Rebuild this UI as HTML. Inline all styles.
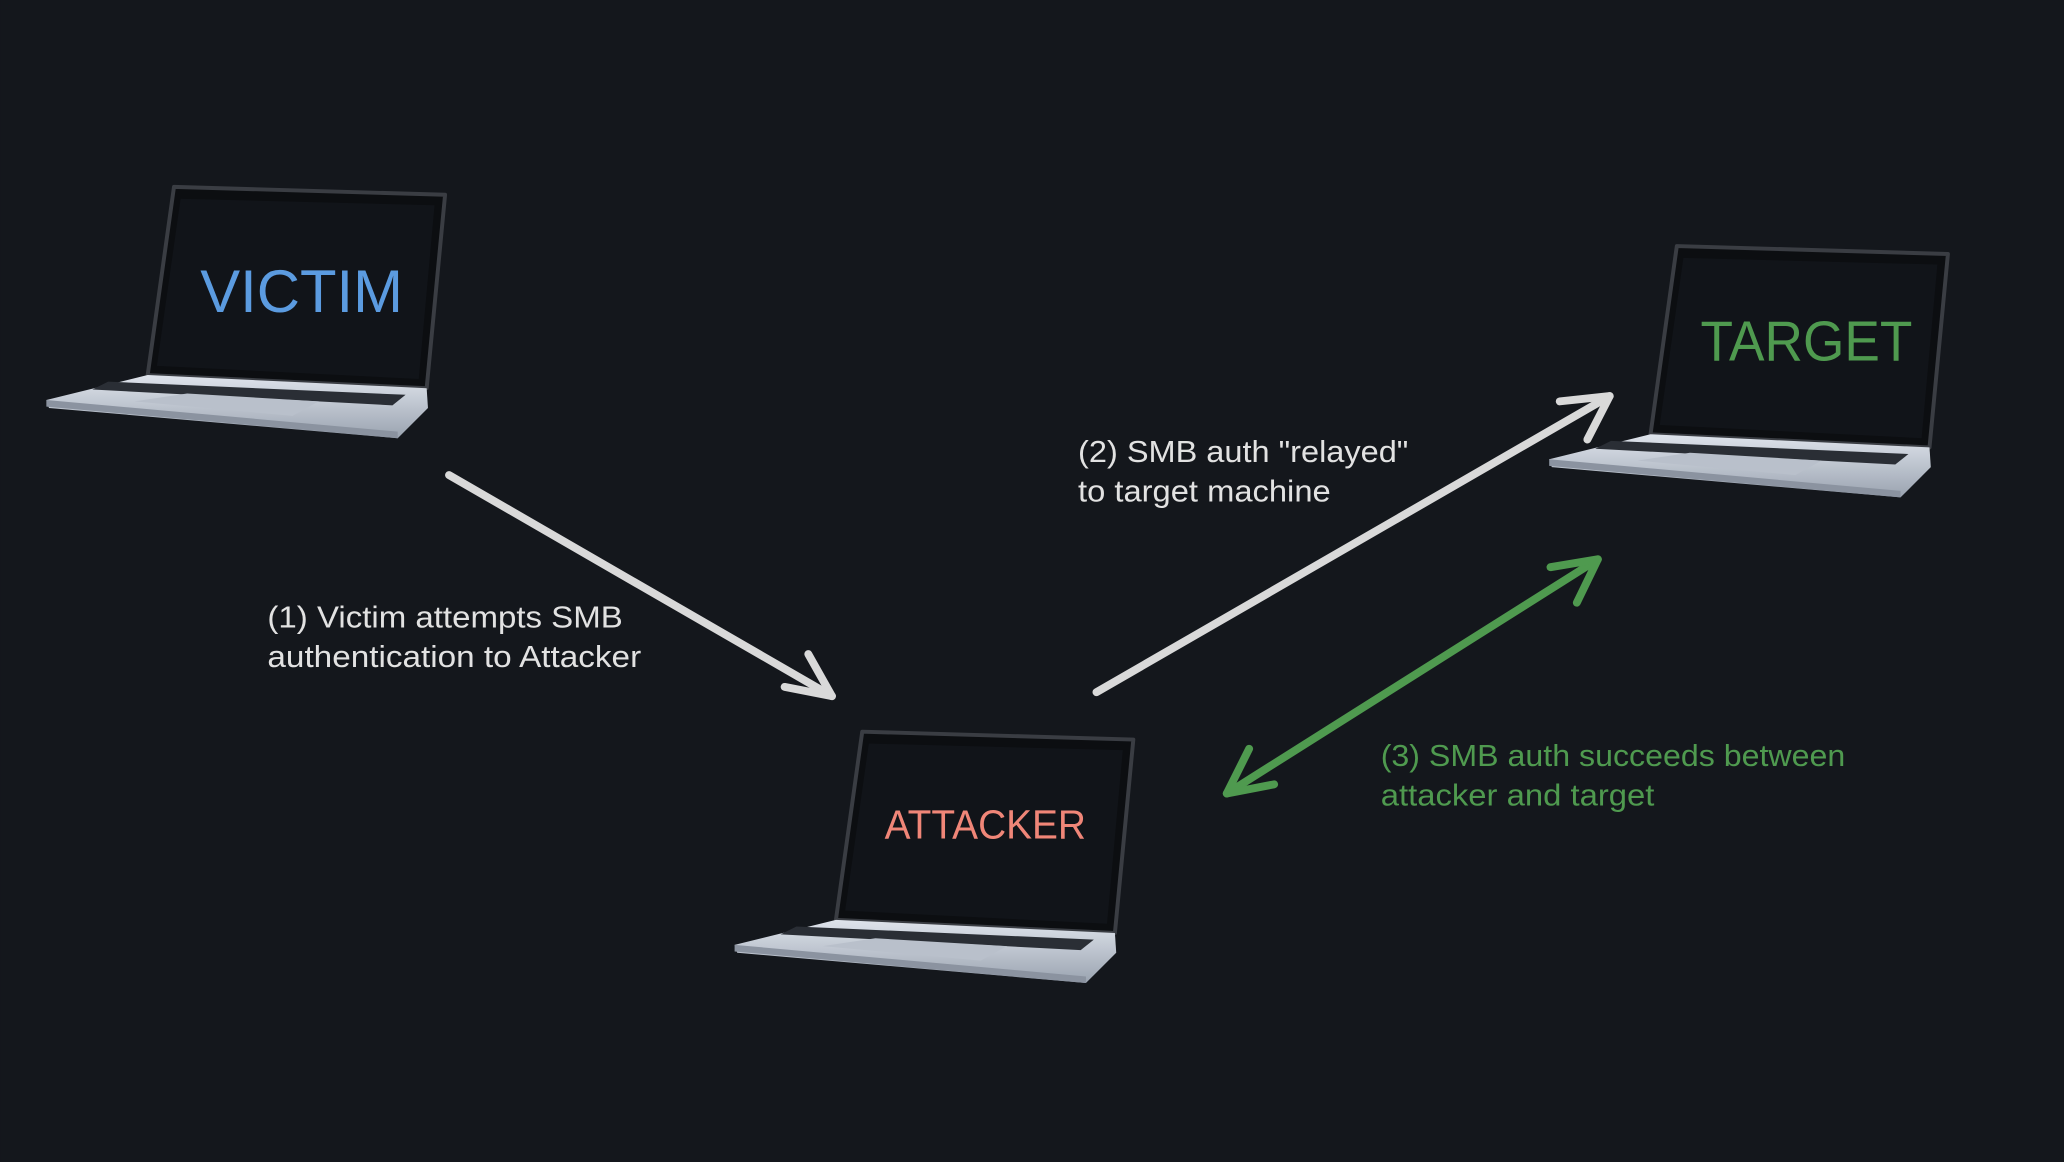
<!DOCTYPE html>
<html><head><meta charset="utf-8"><style>
html,body{margin:0;padding:0;background:#14171c;width:2064px;height:1162px;overflow:hidden}
svg{display:block}
text{font-family:"Liberation Sans",sans-serif}
</style></head><body>
<svg width="2064" height="1162" viewBox="0 0 1568 883" xmlns="http://www.w3.org/2000/svg">
<rect width="1568" height="883" fill="#14171c"/>
<defs>
<linearGradient id="base" x1="0" y1="0" x2="0" y2="1"><stop offset="0" stop-color="#dfe4ec"/><stop offset="1" stop-color="#9aa3b0"/></linearGradient>
<g id="lap">
 <polygon points="0,0 206,6 192,153 -20,143" fill="#0c0e11" stroke="#3a3d43" stroke-width="3" stroke-linejoin="round"/>
 <polygon points="5,9 198,14 186,146 -13,136" fill="#111419"/>
 <polygon points="-20,143 192,153 193,168 170,191 -95,168 -97,162" fill="url(#base)"/>
 <polygon points="-50,148 176,158 166,166 -62,154" fill="#2a2e35"/>
 <polygon points="-30,163 10,157 110,163 90,174" fill="#b9c0cb"/>
 <polygon points="-97,162 170,186 170,191 -97,167" fill="#8b93a0"/>
</g>
</defs>
<use href="#lap" x="132" y="142"/>
<use href="#lap" x="1274" y="187"/>
<use href="#lap" x="655" y="556"/>
<text x="152" y="237" font-size="46" fill="#5b9be0" textLength="154" lengthAdjust="spacingAndGlyphs">VICTIM</text>
<text x="1292" y="274" font-size="43" fill="#4f9a4f" textLength="161" lengthAdjust="spacingAndGlyphs">TARGET</text>
<text x="672" y="637" font-size="31" fill="#f08678" textLength="153" lengthAdjust="spacingAndGlyphs">ATTACKER</text>
<g stroke="#d9d9d9" stroke-width="6" stroke-linecap="round" stroke-linejoin="round" fill="none">
 <line x1="341" y1="361" x2="632" y2="529"/>
 <polyline points="596,522 632,529 614,497"/>
 <line x1="833" y1="526" x2="1223" y2="301"/>
 <polyline points="1185,305 1223,301 1206,334"/>
</g>
<g stroke="#4f9a4f" stroke-width="6" stroke-linecap="round" stroke-linejoin="round" fill="none">
 <line x1="932" y1="603" x2="1214" y2="425"/>
 <polyline points="949,569 932,603 968,596"/>
 <polyline points="1178,431 1214,425 1198,458"/>
</g>
<g font-size="23.5" fill="#e2e2e2">
 <text x="203" y="477" textLength="270" lengthAdjust="spacingAndGlyphs">(1) Victim attempts SMB</text>
 <text x="203" y="507" textLength="284" lengthAdjust="spacingAndGlyphs">authentication to Attacker</text>
 <text x="819" y="351" textLength="251" lengthAdjust="spacingAndGlyphs">(2) SMB auth "relayed"</text>
 <text x="819" y="381" textLength="192" lengthAdjust="spacingAndGlyphs">to target machine</text>
</g>
<g font-size="23.5" fill="#4f9a4f">
 <text x="1049" y="582" textLength="353" lengthAdjust="spacingAndGlyphs">(3) SMB auth succeeds between</text>
 <text x="1049" y="612" textLength="208" lengthAdjust="spacingAndGlyphs">attacker and target</text>
</g>
</svg>
</body></html>
